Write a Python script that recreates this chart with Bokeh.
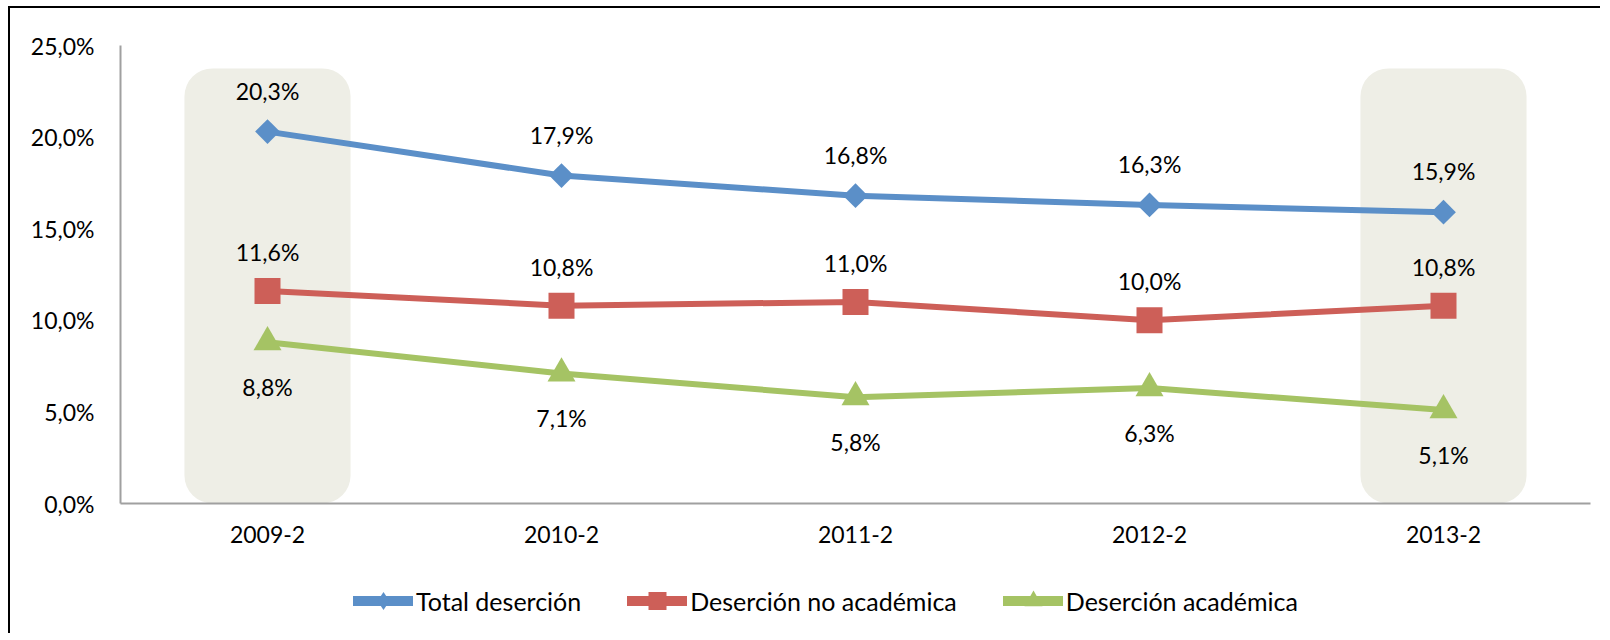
from bokeh.plotting import figure
from bokeh.layouts import column
from bokeh.models import (ColumnDataSource, FactorRange, Range1d, Legend, LegendItem,
                          CustomJSTickFormatter, FixedTicker)
from bokeh.core.properties import value
from bokeh.embed import file_html
from bokeh.resources import INLINE

# ---- data ----
periods = ["2009-2", "2010-2", "2011-2", "2012-2", "2013-2"]
total_desercion = [20.3, 17.9, 16.8, 16.3, 15.9]
desercion_no_academica = [11.6, 10.8, 11.0, 10.0, 10.8]
desercion_academica = [8.8, 7.1, 5.8, 6.3, 5.1]
highlighted = ["2009-2", "2013-2"]
y_ticks = [0, 5, 10, 15, 20, 25]
series_names = ["Total deserción", "Deserción no académica", "Deserción académica"]

FONT = "Lato"
BLUE = "#5B8FC8"
RED = "#CD5F58"
GREEN = "#A5C364"
SHADE = "#EEEEE6"
AXIS = "#A0A0A0"


def fmt(v):
    return f"{v:.1f}".replace(".", ",") + "%"


p = figure(width=1590, height=555, x_range=FactorRange(*periods),
           y_range=Range1d(0, 25), output_backend="svg", toolbar_location=None,
           min_border_left=110, min_border_top=37, min_border_right=10,
           min_border_bottom=60)
p.outline_line_color = None
p.xgrid.grid_line_color = None
p.ygrid.grid_line_color = None

# shaded highlight columns
p.vbar(x=highlighted, width=0.565, bottom=-0.3, top=23.75, fill_color=SHADE,
       line_color=None, border_radius=28)

src = ColumnDataSource(dict(
    x=periods,
    t=total_desercion, n=desercion_no_academica, a=desercion_academica,
    tl=[fmt(v) for v in total_desercion],
    nl=[fmt(v) for v in desercion_no_academica],
    al=[fmt(v) for v in desercion_academica],
))

for col, color in (("t", BLUE), ("n", RED), ("a", GREEN)):
    p.line("x", col, source=src, line_color=color, line_width=6, line_join="round")

p.scatter("x", "t", source=src, marker="square", angle=0.785398, size=17.5,
          fill_color=BLUE, line_color=None)
p.scatter("x", "n", source=src, marker="square", size=26,
          fill_color=RED, line_color=None)
p.scatter("x", "a", source=src, marker="triangle", size=28,
          fill_color=GREEN, line_color=None)

label_kw = dict(text_font=value(FONT), text_font_size="23px", text_color="black",
                text_align="center", text_baseline="middle")
p.text("x", "t", text="tl", source=src, y_offset=-41, **label_kw)
p.text("x", "n", text="nl", source=src, y_offset=-39, **label_kw)
p.text("x", "a", text="al", source=src, y_offset=45, **label_kw)

# axes
p.yaxis.ticker = FixedTicker(ticks=y_ticks)
p.yaxis.formatter = CustomJSTickFormatter(code="return tick.toFixed(1).replace('.', ',') + '%';")
for ax in (p.xaxis[0], p.yaxis[0]):
    ax.axis_line_color = AXIS
    ax.axis_line_width = 2
    ax.major_tick_line_color = None
    ax.minor_tick_line_color = None
    ax.major_tick_out = 0
    ax.major_tick_in = 0
    ax.minor_tick_out = 0
    ax.major_label_text_font = FONT
    ax.major_label_text_font_size = "23px"
    ax.major_label_text_color = "black"
p.yaxis.major_label_standoff = 26
p.xaxis.major_label_standoff = 22

# ---- legend strip (separate canvas below the chart) ----
lg = figure(width=1590, height=70, x_range=Range1d(0, 1), y_range=Range1d(0, 1),
            output_backend="svg", toolbar_location=None,
            x_axis_location=None, y_axis_location=None,
            min_border_left=0, min_border_right=0, min_border_top=0, min_border_bottom=0)
lg.outline_line_color = None
lg.xgrid.visible = False
lg.ygrid.visible = False

dummy = ColumnDataSource(dict(x=[-10], y=[-10]))
items = []
for name, color, marker in zip(series_names, (BLUE, RED, GREEN), ("diamond", "square", "triangle")):
    lr = lg.line("x", "y", source=dummy, line_color=color, line_width=10, line_cap="round")
    sr = lg.scatter("x", "y", source=dummy, marker=marker, fill_color=color, line_color=None)
    items.append(LegendItem(label=name, renderers=[lr, sr]))

legend = Legend(items=items, orientation="horizontal", location=(233, 10),
                glyph_width=60, glyph_height=45, label_standoff=3, spacing=46,
                padding=0, margin=0, border_line_color=None, background_fill_alpha=0,
                label_text_font=FONT, label_text_font_size="25px", label_text_color="black")
lg.add_layout(legend, "center")

layout = column(p, lg, spacing=0)
layout.styles = {"border-top": "2px solid black", "border-left": "2px solid black",
                 "margin-left": "8px", "margin-top": "6px"}

open("out.html", "w").write(file_html(layout, INLINE))
